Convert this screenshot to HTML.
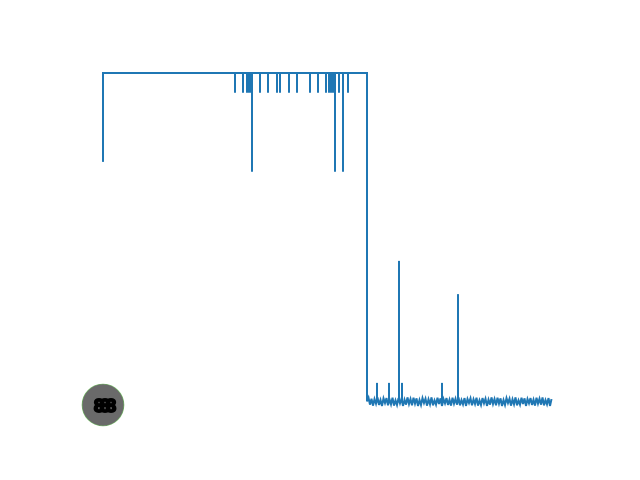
<!DOCTYPE html>
<html><head><meta charset="utf-8"><style>
body{margin:0;background:#fff;}
svg{display:block;font-family:"Liberation Sans",sans-serif;}
</style></head><body>
<svg width="640" height="480">
<g id="plot"></g>
<g>
<circle cx="103" cy="405" r="21" fill="#6a6a6a" stroke="#6fbf5f" stroke-width="0.6"/>
<text x="103" y="412" text-anchor="middle" font-size="18" font-weight="bold" fill="#000" stroke="#000" stroke-width="2" letter-spacing="-4">888</text>
</g>
</svg>
<script>
// data in x-units 0..450, y-units 0..100
const startX = 0, startY = 73, topY = 100, dropX = 264;
const spikeX = [132,140,144,146,147,149,157,165,174,177,186,194,207,215,223,226,228,230,232,236,240,245];
const spikeY = [94,94,94,94,94,70,94,94,94,94,94,94,94,94,94,94,94,94,70,94,70,94];
const noiseY = [0.2,1.3,-0.8,1.0,-1.1,0.9,-0.5,1.4,-0.9,0.6,-1.2,1.1,-0.3,1.2,-1.0,0.8,-0.7,1.3,-1.1,0.5,
-0.9,1.2,-0.4,1.0,-1.2,0.7,-0.8,1.4,-0.6,0.9,-1.0,1.3,-0.5,1.1,-1.2,0.6,-0.9,1.2,-0.3,1.0,
-1.1,0.8,-0.7,1.4,-1.0,0.5,-0.8,1.3,-0.6,1.1,-1.2,0.9,-0.4,1.2,-0.9,0.7,-1.1,1.3,-0.5,1.0,
-0.8,1.4,-1.0,0.6,-0.7,1.2,-1.2,0.9,-0.3,1.1,-1.0,0.8,-0.6,1.3,-1.1,0.5,-0.9,1.2,-0.4,1.0,
-1.2,0.7,-0.8,1.4,-0.6,0.9,-1.0,1.3,-0.5,1.1,-1.2,0.6,-0.9,1.2,-0.3,1.0,-1.1,0.8,-0.7,1.4,
-1.0,0.5,-0.8,1.3,-0.6,1.1,-1.2,0.9,-0.4,1.2,-0.9,0.7,-1.1,1.3,-0.5,1.0,-0.8,1.4,-1.0,0.6,
-0.7,1.2,-1.2,0.9];
const noiseStep = 1.5;
const bumpX = [274,286,296,299,339,355];
const bumpY = [5.8,5.8,42.9,5.8,5.8,32.8];
const sx = v => 103 + v;
const sy = v => 402 - v * 3.29;
const plot = document.getElementById('plot');
function addPath(d, w, name) {
  const p = document.createElementNS('http://www.w3.org/2000/svg','path');
  p.setAttribute('d', d);
  p.setAttribute('fill','none');
  p.setAttribute('stroke','#1f77b4');
  p.setAttribute('stroke-width', w);
  
  
  plot.appendChild(p);
}
let d = `M${sx(startX)},${sy(startY)} L${sx(startX)},${sy(topY)}`;
for (let i = 0; i < spikeX.length; i++) {
  d += ` L${sx(spikeX[i])},${sy(topY)} L${sx(spikeX[i])},${sy(spikeY[i])} L${sx(spikeX[i])},${sy(topY)}`;
}
d += ` L${sx(dropX)},${sy(topY)} L${sx(dropX)},${sy(noiseY[0])}`;
for (let i = 0; i < noiseY.length; i++) {
  d += ` L${sx(dropX + i * noiseStep)},${sy(noiseY[i])}`;
}
addPath(d, 2, 'series-line');
let b = '';
for (let i = 0; i < bumpX.length; i++) {
  b += ` M${sx(bumpX[i])},${sy(0)} L${sx(bumpX[i])},${sy(bumpY[i])}`;
}
addPath(b, 2, 'series-spikes');
</script>
</body></html>
